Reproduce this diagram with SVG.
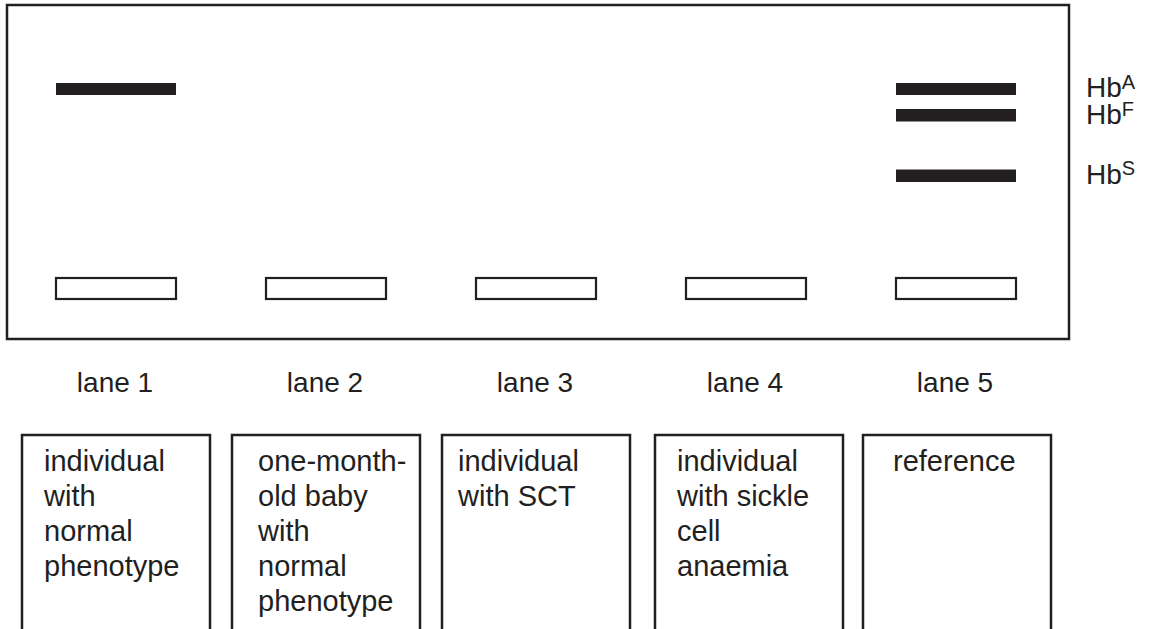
<svg xmlns="http://www.w3.org/2000/svg" width="1152" height="629" viewBox="0 0 1152 629">
<style>
.ln{fill:none;stroke:#231f20;stroke-width:2.5}
.band{fill:#231f20}
.well{fill:#fff;stroke:#231f20;stroke-width:2.2}
.t{font-family:"Liberation Sans",Arial,sans-serif;font-size:28px;fill:#231f20}
.bt{font-size:29px}
.lab{text-anchor:middle}
.sup{font-size:20px}
</style>
<rect width="1152" height="629" fill="#fff"/>
<g id="gel">
<rect class="ln" x="7" y="5" width="1062" height="334"/>
</g>
<g id="bands">
<rect class="band" x="56" y="83" width="120" height="12"/>
<rect class="band" x="896" y="83" width="120" height="12"/>
<rect class="band" x="896" y="109" width="120" height="12.5"/>
<rect class="band" x="896" y="169.5" width="120" height="12.5"/>
</g>
<g id="wells">
<rect class="well" x="56" y="278" width="120" height="21"/>
<rect class="well" x="266" y="278" width="120" height="21"/>
<rect class="well" x="476" y="278" width="120" height="21"/>
<rect class="well" x="686" y="278" width="120" height="21"/>
<rect class="well" x="896" y="278" width="120" height="21"/>
</g>
<g id="hb-labels">
<text class="t" x="1086" y="97">Hb<tspan class="sup" dy="-8">A</tspan></text>
<text class="t" x="1086" y="123.5">Hb<tspan class="sup" dy="-8">F</tspan></text>
<text class="t" x="1086" y="184">Hb<tspan class="sup" dy="-9">S</tspan></text>
</g>
<g id="lane-labels">
<text class="t lab" x="115" y="392">lane 1</text>
<text class="t lab" x="325" y="392">lane 2</text>
<text class="t lab" x="535" y="392">lane 3</text>
<text class="t lab" x="745" y="392">lane 4</text>
<text class="t lab" x="955" y="392">lane 5</text>
</g>
<g id="box1">
<rect class="ln" x="22" y="435" width="188" height="210"/>
<text class="t bt"><tspan x="44" y="471">individual</tspan><tspan x="44" y="506">with</tspan><tspan x="44" y="541">normal</tspan><tspan x="44" y="576">phenotype</tspan></text>
</g>
<g id="box2">
<rect class="ln" x="232" y="435" width="188" height="210"/>
<text class="t bt"><tspan x="258" y="471">one-month-</tspan><tspan x="258" y="506">old baby</tspan><tspan x="258" y="541">with</tspan><tspan x="258" y="576">normal</tspan><tspan x="258" y="611">phenotype</tspan></text>
</g>
<g id="box3">
<rect class="ln" x="442" y="435" width="188" height="210"/>
<text class="t bt"><tspan x="458" y="471">individual</tspan><tspan x="458" y="506">with SCT</tspan></text>
</g>
<g id="box4">
<rect class="ln" x="655" y="435" width="188" height="210"/>
<text class="t bt"><tspan x="677" y="471">individual</tspan><tspan x="677" y="506">with sickle</tspan><tspan x="677" y="541">cell</tspan><tspan x="677" y="576">anaemia</tspan></text>
</g>
<g id="box5">
<rect class="ln" x="863" y="435" width="188" height="210"/>
<text class="t bt" x="893" y="471">reference</text>
</g>
</svg>
